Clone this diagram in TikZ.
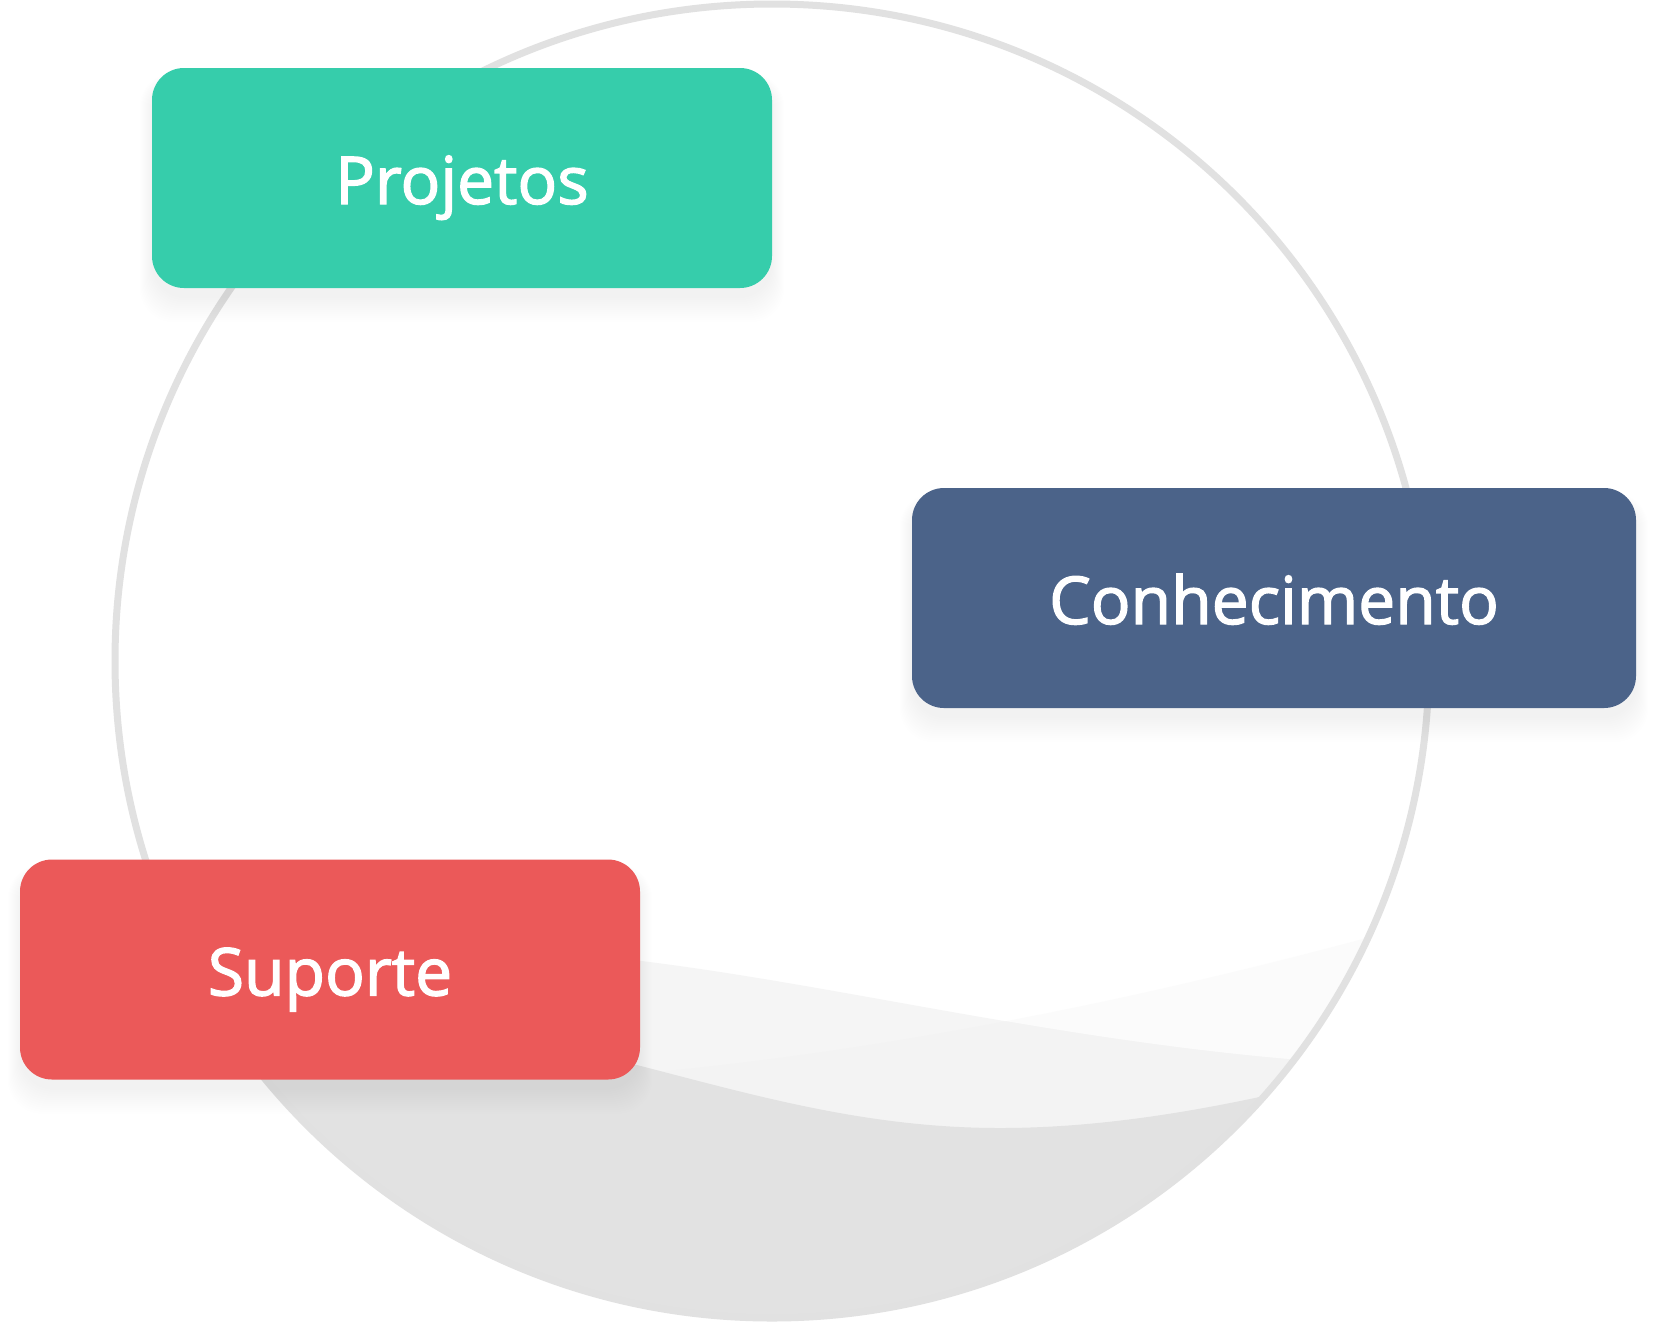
\documentclass[tikz,border=0pt]{standalone}
\usepackage{fontspec}
\setmainfont{Open Sans}
\newfontfamily\boxfont{Open Sans}[FakeBold=2]
\usetikzlibrary{backgrounds}
\definecolor{projcol}{HTML}{36CDAB}
\definecolor{conhcol}{HTML}{4B6389}
\definecolor{supcol}{HTML}{EB5959}
\definecolor{ringcol}{HTML}{E1E1E1}
\definecolor{waveA}{HTML}{F5F5F5}
\definecolor{waveB}{HTML}{FBFBFB}
\definecolor{waveAB}{HTML}{F3F3F3}
\definecolor{waveD}{HTML}{E2E2E2}
\tikzset{
  box/.style={rectangle, rounded corners=32pt, minimum height=220pt, text=white,
    font=\boxfont\fontsize{66}{79}\selectfont, text height=52pt, text depth=0pt, inner sep=0pt},
  shadowlayer/.style={fill=black, fill opacity=0.004, rounded corners=34pt},
}
\newcommand{\wavepathA}{(0,948) -- (450,948) .. controls (750,948) and (1050,1060) .. (1450,1068) -- (1550,1068) -- (1550,1400) -- (0,1400) -- cycle}
\newcommand{\wavepathB}{(0,1095) -- (450,1085) .. controls (800,1075) and (1150,1000) .. (1450,915) -- (1550,885) -- (1550,1400) -- (0,1400) -- cycle}
\newcommand{\wavepathD}{(0,990) -- (450,1025) .. controls (650,1055) and (800,1128) .. (1000,1128) .. controls (1150,1128) and (1300,1090) .. (1450,1050) -- (1550,1020) -- (1550,1400) -- (0,1400) -- cycle}
\begin{document}
\begin{tikzpicture}[x=1pt,y=-1pt]
\useasboundingbox (0,0) rectangle (1656,1323);

\node[box, fill=projcol, minimum width=620pt] (proj) at (462,178) {Projetos};
\node[box, fill=conhcol, minimum width=724pt] (conh) at (1274,598) {Conhecimento};
\node[box, fill=supcol, minimum width=620pt] (sup) at (330,969.5) {Suporte};

\begin{scope}[on background layer]
  \fill[white] (0,0) rectangle (1656,1323);
  \begin{scope}
    \clip (772,661) circle[radius=657pt];
    \fill[waveB] \wavepathB;
    \fill[waveA] \wavepathA;
    \begin{scope}
      \clip \wavepathA;
      \fill[waveAB] \wavepathB;
    \end{scope}
    \fill[waveD] \wavepathD;
  \end{scope}
  \draw[ringcol, line width=7pt] (772,661) circle[radius=657pt];
  \foreach \n in {proj,conh,sup}{
    \foreach \i in {0,2,...,24}{
      \fill[shadowlayer] ([xshift={-0.5*\i pt}, yshift={-10pt+0.2*\i pt}]\n.north west)
        rectangle ([xshift={0.5*\i pt}, yshift={-10pt-\i pt}]\n.south east);
    }
  }
\end{scope}
\end{tikzpicture}
\end{document}
